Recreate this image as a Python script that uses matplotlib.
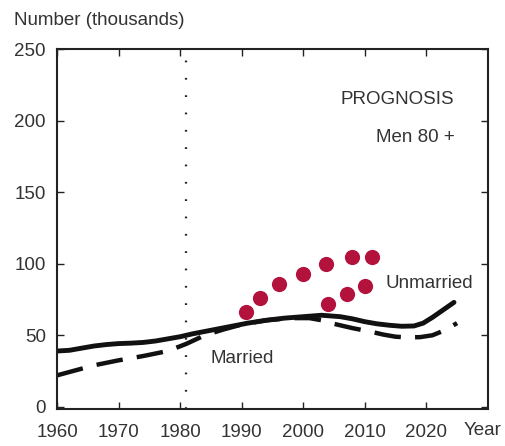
import matplotlib.pyplot as plt

plt.rcParams['font.family'] = ['Liberation Sans', 'DejaVu Sans']

# solid line
years_solid = [1960, 1962, 1964, 1966, 1968, 1970, 1972, 1974, 1976, 1978, 1980, 1982, 1985,
               1988, 1991, 1994, 1997, 2000, 2003, 2006, 2008, 2010, 2012, 2014, 2016, 2018,
               2019.5, 2021, 2022.5, 2024.5]
vals_solid = [39, 39.5, 41, 42.5, 43.5, 44.2, 44.5, 45, 46, 47.5, 49, 51, 53.5,
              56, 58.5, 60.5, 62, 63, 64, 63, 61.5, 59.5, 58, 57, 56.3, 56.5,
              58.5, 62.5, 67, 73]

# dashed line
years_dash = [1960, 1963, 1966, 1970, 1974, 1978, 1981, 1984, 1987, 1990, 1994, 1998, 2001,
              2003, 2005, 2008, 2011, 2013, 2015, 2017, 2019, 2021, 2023, 2025]
vals_dash = [22, 25.5, 29, 32.5, 35.5, 39, 44, 50, 54, 57.5, 60.5, 62, 62,
             60.5, 58, 55, 52.5, 50.5, 49, 48.5, 48.7, 50, 53.5, 58.5]

# prognosis dots
dots_upper_x = [1990.7, 1993, 1996.1, 2000, 2003.7, 2007.9, 2011.2]
dots_upper_y = [66, 76, 85.5, 93, 99.5, 104.5, 105]
dots_lower_x = [2004.1, 2007.1, 2010.1]
dots_lower_y = [72, 79, 84.5]

xticks = [1960, 1970, 1980, 1990, 2000, 2010, 2020]
yticks = [0, 50, 100, 150, 200, 250]

fig = plt.figure(figsize=(5.05, 4.46), dpi=100)
ax = fig.add_axes([0.113, 0.083, 0.853, 0.807])

txt = '#333333'
fs = 13.5
ax.plot(years_solid, vals_solid, color='#111111', lw=3.5, solid_capstyle='round', solid_joinstyle='round')
ax.plot(years_dash, vals_dash, color='#111111', lw=3.2, dashes=(6, 3.2))
ax.axvline(1981, color='#222222', lw=1.6, ls=(0, (0.8, 7)), ymax=0.99)
ax.scatter(dots_upper_x + dots_lower_x, dots_upper_y + dots_lower_y, s=120, color='#B3123C', zorder=3, linewidths=0)

ax.text(2015.3, 215, 'PROGNOSIS', ha='center', va='center', fontsize=fs, color=txt)
ax.text(2018.3, 188, 'Men 80 +', ha='center', va='center', fontsize=fs, color=txt)
ax.text(2013.3, 86, 'Unmarried', ha='left', va='center', fontsize=fs, color=txt)
ax.text(1985, 34, 'Married', ha='left', va='center', fontsize=fs, color=txt)
fig.text(0.027, 0.955, 'Number (thousands)', ha='left', va='center', fontsize=fs, color=txt)
fig.text(0.993, 0.034, 'Year', ha='right', va='center', fontsize=fs, color=txt)

ax.set_xlim(1960, 2030)
ax.set_ylim(-1.5, 250)
ax.set_xticks(xticks)
ax.set_yticks(yticks)
ax.tick_params(direction='in', length=5, width=1, top=True, right=True, labelsize=fs, labelcolor=txt, colors='#222222')
ax.tick_params(axis='x', pad=11)
ax.tick_params(axis='y', pad=8)
for s in ax.spines.values():
    s.set_linewidth(1.5)
    s.set_color('#222222')

fig.savefig('out.png', dpi=100)
